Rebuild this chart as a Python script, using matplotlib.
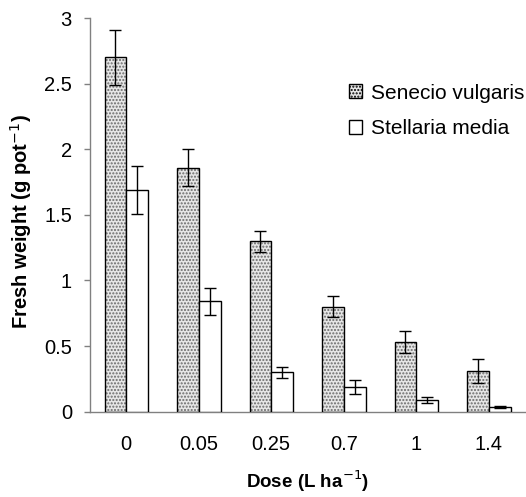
import matplotlib
matplotlib.use("Agg")
import matplotlib.pyplot as plt
import numpy as np
from matplotlib.patches import Patch

plt.rcParams['font.family'] = ['Liberation Sans', 'DejaVu Sans']

doses = ["0", "0.05", "0.25", "0.7", "1", "1.4"]
senecio = [2.70, 1.86, 1.30, 0.80, 0.53, 0.31]
senecio_err = [0.21, 0.14, 0.08, 0.08, 0.085, 0.09]
stellaria = [1.69, 0.84, 0.30, 0.19, 0.09, 0.035]
stellaria_err = [0.18, 0.10, 0.04, 0.055, 0.022, 0.01]
y_ticks = [0, 0.5, 1, 1.5, 2, 2.5, 3]
y_ticklabels = ["0", "0.5", "1", "1.5", "2", "2.5", "3"]

W, H = 526, 497
fig = plt.figure(figsize=(W / 100, H / 100), dpi=100)
ax = fig.add_axes([90 / W, 85.3 / H, 435 / W, (411.7 - 18) / H])

x = np.arange(len(doses))
bw = 0.30

# stippled fill for Senecio, then crisp outline on top
ax.bar(x - bw / 2, senecio, bw, color='#e6e6e6', edgecolor='#6a6a6a',
       hatch='.....', linewidth=0, zorder=2)
ax.bar(x - bw / 2, senecio, bw, color='none', edgecolor='black',
       linewidth=1.0, zorder=3)
ax.bar(x + bw / 2, stellaria, bw, color='white', edgecolor='black',
       linewidth=1.0, zorder=3)

ax.errorbar(x - bw / 2, senecio, yerr=senecio_err, fmt='none', ecolor='black',
            elinewidth=1.0, capsize=4.3, capthick=1.0, zorder=4)
ax.errorbar(x + bw / 2, stellaria, yerr=stellaria_err, fmt='none', ecolor='black',
            elinewidth=1.0, capsize=4.3, capthick=1.0, zorder=4)

ax.set_xlim(-0.5, len(doses) - 0.5)
ax.set_ylim(0, 3)
ax.set_yticks(y_ticks)
ax.set_yticklabels(y_ticklabels)
ax.set_xticks(x)
ax.set_xticklabels(doses)

for side in ('top', 'right'):
    ax.spines[side].set_visible(False)
for side in ('left', 'bottom'):
    ax.spines[side].set_color('#808080')
    ax.spines[side].set_linewidth(1.0)

ax.tick_params(axis='y', direction='out', length=4, width=1.0, color='#808080',
               labelsize=14.5, pad=9)
ax.tick_params(axis='x', length=0, labelsize=14.5, pad=17)

ax.set_ylabel('Fresh weight (g pot$^{-1}$)', fontsize=14.5, fontweight='bold')
ax.yaxis.set_label_coords(-0.128, 0.482)
ax.set_xlabel('Dose (L ha$^{-1}$)', fontsize=13.5,
              fontweight='bold', labelpad=10)

handles = [Patch(facecolor='#e6e6e6', edgecolor='black', hatch='.....', linewidth=1.0),
           Patch(facecolor='white', edgecolor='black', linewidth=1.0)]
leg = fig.legend(handles, ['Senecio vulgaris', 'Stellaria media'],
                 loc='upper left', bbox_to_anchor=(330 / W, 1 - 65 / H),
                 frameon=False, fontsize=15, handlelength=0.65, handleheight=0.65,
                 handletextpad=0.4, labelspacing=0.8)

fig.savefig('out.png', dpi=100)
